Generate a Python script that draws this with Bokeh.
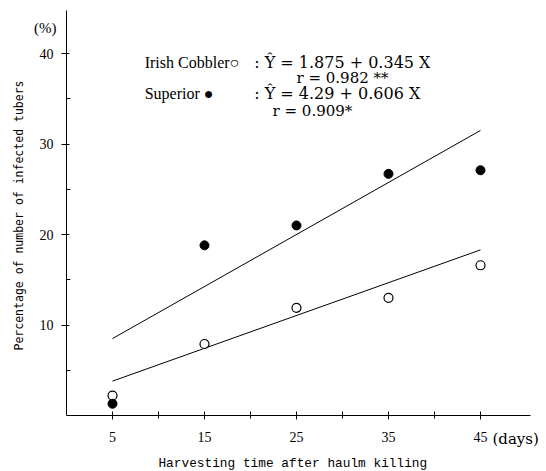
from bokeh.plotting import figure
from bokeh.models import FixedTicker, Label, Range1d
from bokeh.embed import file_html
from bokeh.resources import INLINE
import math

# Data
days = [5, 15, 25, 35, 45]
cobbler = [2.2, 7.9, 11.9, 13.0, 16.6]
superior = [1.3, 18.8, 21.0, 26.7, 27.1]
line_x = [5, 45]
cobbler_fit = [3.8, 18.3]
superior_fit = [8.5, 31.5]
x_ticks = [5, 15, 25, 35, 45]
x_minor = [10, 20, 30, 40]
y_ticks = [10, 20, 30, 40]
y_minor = [5, 15, 25, 35]

SERIF = "Liberation Serif"
DSERIF = "DejaVu Serif"
MONO = "Liberation Mono"

W, H = 546, 471
X0, XS = 66.0, 9.2     # pixel of x=0, pixels per day
Y0, YS = 415.0, 9.05   # pixel of y=0, pixels per percent

p = figure(width=W, height=H, output_backend="svg", toolbar_location=None,
           x_range=Range1d(-X0 / XS, (W - X0) / XS),
           y_range=Range1d((Y0 - H) / YS, Y0 / YS),
           min_border=0, min_border_left=0, min_border_right=0,
           min_border_top=0, min_border_bottom=0)
p.outline_line_color = None
p.xgrid.visible = False
p.ygrid.visible = False
p.background_fill_color = "white"
p.border_fill_color = "white"

p.xaxis.fixed_location = 0
p.yaxis.fixed_location = 0
p.xaxis.bounds = (0, 50.4)
p.yaxis.bounds = (0, 44.75)

for ax in (p.xaxis[0], p.yaxis[0]):
    ax.axis_line_color = "black"
    ax.axis_line_width = 1
    ax.major_tick_line_color = "black"
    ax.minor_tick_line_color = "black"
    ax.major_label_text_font = SERIF
    ax.major_label_text_font_size = "14px"
    ax.major_label_text_color = "black"

p.xaxis.ticker = FixedTicker(ticks=x_ticks, minor_ticks=x_minor)
p.yaxis.ticker = FixedTicker(ticks=y_ticks, minor_ticks=y_minor)
p.xaxis.major_tick_in = 4
p.xaxis.major_tick_out = 4
p.xaxis.minor_tick_in = 4
p.xaxis.minor_tick_out = 3
p.yaxis.major_tick_in = 3
p.yaxis.major_tick_out = 5
p.yaxis.minor_tick_in = 4
p.yaxis.minor_tick_out = 0
p.xaxis.major_label_standoff = 12
p.yaxis.major_label_standoff = 8

# regression lines
p.line(line_x, superior_fit, line_color="black", line_width=1)
p.line(line_x, cobbler_fit, line_color="black", line_width=1)

# points
p.scatter(days, cobbler, marker="circle", size=9, fill_color="white",
          line_color="black", line_width=1.2)
p.scatter(days, superior, marker="circle", size=9, fill_color="black",
          line_color="black")

def lab(x, y, t, font=SERIF, size="15px", align="left", angle=0.0):
    p.add_layout(Label(x=x, y=y, text=t, text_font=font, text_font_size=size,
                       text_align=align, text_baseline="middle", angle=angle,
                       text_color="black"))

# equations
lab(8.5, 39.0, "Irish Cobbler\u25cb", size="16px")
lab(20.4, 39.0, ":  \u0176 = 1.875 + 0.345 X", font=DSERIF, size="16px")
lab(25.0, 37.3, "r = 0.982 **", font=DSERIF, size="15px")
lab(8.5, 35.6, "Superior  \u25cf", size="16px")
lab(20.4, 35.6, ":  \u0176 = 4.29 + 0.606 X", font=DSERIF, size="16px")
lab(22.4, 33.7, "r = 0.909*", font=DSERIF, size="15px")

# units and axis titles
lab(-2.3, 42.8, "(%)", size="15px", align="center")
lab(46.3, -2.55, "(days)", font=DSERIF, size="15px")
lab(24.6, -5.3, "Harvesting time after haulm killing", font=MONO, size="12.8px", align="center")
lab(-5.15, 22.1, "Percentage of number of infected tubers", font="DejaVu Sans Mono",
    size="11.5px", align="center", angle=math.pi / 2)

open("out.html", "w").write(file_html(p, INLINE))
